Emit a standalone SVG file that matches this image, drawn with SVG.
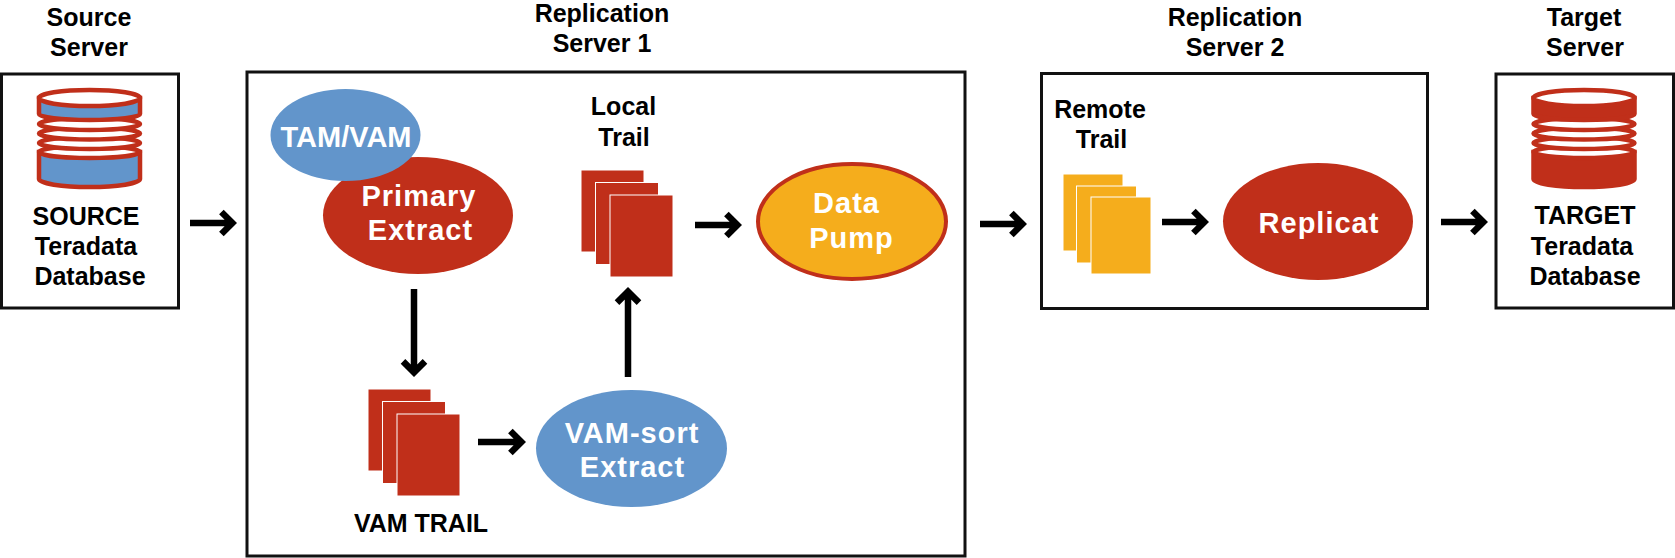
<svg xmlns="http://www.w3.org/2000/svg" width="1675" height="558" viewBox="0 0 1675 558">
<defs>
<style>
text{font-family:"Liberation Sans",Arial,sans-serif;font-weight:700;text-anchor:middle;fill:#000;font-size:25px}
.w{fill:#fff;font-size:29px;letter-spacing:1px}
.box{fill:#fff;stroke:#111;stroke-width:3}
.r{fill:#c02f1a}.b{fill:#6295cb}.y{fill:#f5ad1c}
.pg{stroke:#fff;stroke-width:1}
.a{fill:none;stroke:#000;stroke-width:6.5}
.s{stroke:#c02f1a;stroke-width:4.5}
.wf{fill:#fff}
</style>
<g id="pr"><rect class="pg" x="0" y="0" width="63" height="82"/><rect class="pg" x="14.5" y="12.5" width="63" height="82"/><rect class="pg" x="29" y="25" width="63" height="82"/></g>
<g id="py"><rect class="pg" x="0" y="0" width="60" height="77"/><rect class="pg" x="13.5" y="12" width="60" height="77"/><rect class="pg" x="28" y="23" width="60" height="77"/></g>
<g id="db">
<path class="s" d="M-50.500 152V179A50.500 8 0 0 0 50.500 179V152Z"/>
<ellipse class="s wf" cx="0" cy="152" rx="50.500" ry="6"/>
<ellipse class="s wf" cx="0" cy="143" rx="50.500" ry="6"/>
<ellipse class="s wf" cx="0" cy="133.500" rx="50.500" ry="6"/>
<ellipse class="s wf" cx="0" cy="124" rx="50.500" ry="6"/>
<path class="s" d="M-50.500 98V114A50.500 6 0 0 0 50.500 114V98Z"/>
<ellipse class="s wf" cx="0" cy="98" rx="50.500" ry="8"/>
</g>
</defs>
<rect width="1675" height="558" fill="#fff"/>
<g id="source-server">
<text x="89" y="26">Source</text><text x="89" y="56">Server</text>
<rect class="box" x="1.500" y="74" width="177" height="234"/>
<use href="#db" x="89.500" y="0" class="b"/>
<text x="86" y="225">SOURCE</text><text x="86" y="255">Teradata</text><text x="90" y="285">Database</text>
</g>
<g id="replication-server-1">
<text x="602" y="21.500">Replication</text><text x="602" y="52">Server 1</text>
<rect class="box" x="247" y="72" width="718" height="484"/>
</g>
<g id="replication-server-2">
<text x="1235" y="26">Replication</text><text x="1235" y="56">Server 2</text>
<rect class="box" x="1041.500" y="73.500" width="386" height="235"/>
</g>
<g id="target-server">
<text x="1584" y="26">Target</text><text x="1585" y="56">Server</text>
<rect class="box" x="1496" y="74" width="177.500" height="234"/>
<use href="#db" x="1584" y="0" class="r"/>
<text x="1585" y="224">TARGET</text><text x="1582" y="255">Teradata</text><text x="1585" y="285">Database</text>
</g>
<g id="primary-extract"><ellipse class="r" cx="418" cy="215.500" rx="95" ry="58.500"/></g>
<g id="tam-vam"><ellipse class="b" cx="345.500" cy="135" rx="75" ry="46"/><text class="w" x="346" y="146.500" style="letter-spacing:0">TAM/VAM</text></g>
<g id="primary-extract-label"><text class="w" x="419" y="205.500">Primary</text><text class="w" x="420.500" y="240">Extract</text></g>
<g id="local-trail"><text x="623.500" y="115">Local</text><text x="624" y="145.500">Trail</text><use href="#pr" x="581" y="170" class="r"/></g>
<g id="data-pump"><ellipse class="y" cx="852" cy="221.500" rx="94" ry="57.500" stroke="#c02f1a" stroke-width="4"/><text class="w" x="846.500" y="213">Data</text><text class="w" x="851.500" y="248">Pump</text></g>
<g id="vam-trail"><use href="#pr" x="368" y="389" class="r"/><text x="421" y="531.500">VAM TRAIL</text></g>
<g id="vam-sort-extract"><ellipse class="b" cx="631.500" cy="448.500" rx="95.500" ry="58.500"/><text class="w" x="632" y="442.500">VAM-sort</text><text class="w" x="632.500" y="476.500">Extract</text></g>
<g id="remote-trail"><text x="1100" y="117.500">Remote</text><text x="1101.500" y="147.500">Trail</text><use href="#py" x="1063" y="174" class="y"/></g>
<g id="replicat"><ellipse class="r" cx="1318" cy="221.500" rx="95" ry="58.500"/><text class="w" x="1319" y="233">Replicat</text></g>
<g id="connectors" class="a">
<path class="a" d="M190 223H232M221.400 212L232.400 223L221.400 234"/>
<path class="a" d="M695 225H737M726.400 214L737.400 225L726.400 236"/>
<path class="a" d="M980 224H1022M1011.400 213L1022.400 224L1011.400 235"/>
<path class="a" d="M1162 222H1204M1193.400 211L1204.400 222L1193.400 233"/>
<path class="a" d="M1441 222H1483M1472.400 211L1483.400 222L1472.400 233"/>
<path class="a" d="M478 442H521M510.400 431L521.400 442L510.400 453"/>
<path class="a" d="M414 289V372M403 361.400L414 372.400L425 361.400"/>
<path class="a" d="M628 377V292M617 302.600L628 291.600L639 302.600"/>
</g>
</svg>
